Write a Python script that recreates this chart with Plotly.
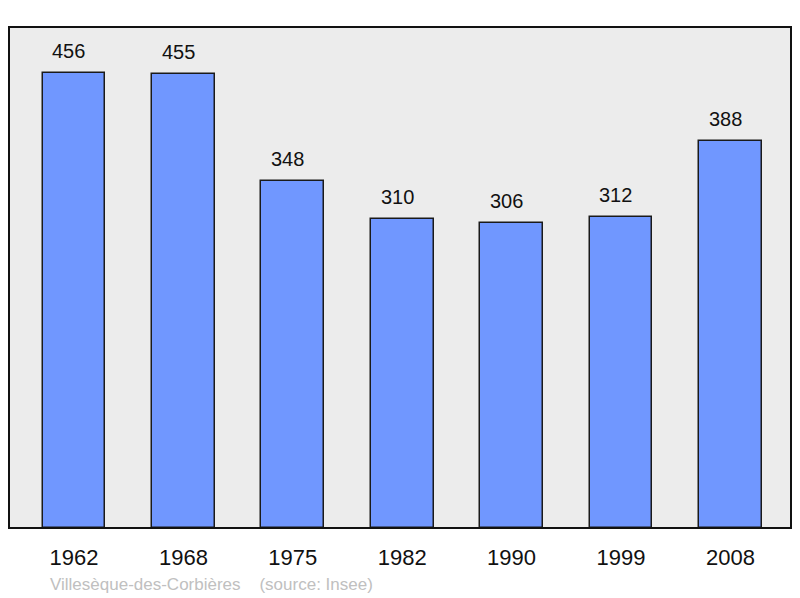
import plotly.graph_objects as go

years = ["1962", "1968", "1975", "1982", "1990", "1999", "2008"]
population = [456, 455, 348, 310, 306, 312, 388]
source_text = "Villesèque-des-Corbières    (source: Insee)"

xs = list(range(len(years)))

fig = go.Figure()
fig.add_trace(go.Bar(
    x=xs, y=population, width=0.575,
    marker=dict(color="#7097ff", line=dict(color="#1a1a1a", width=1.5)),
    hoverinfo="skip",
))

for x, v in zip(xs, population):
    fig.add_annotation(x=x, y=v, text=str(v), showarrow=False,
                       yanchor="bottom", yshift=9, xshift=-5,
                       font=dict(family="Liberation Sans, Arial", size=20, color="#111"))

fig.add_annotation(xref="paper", yref="paper", x=(48 - 9) / 782, y=-(584 - 528) / 501,
                   xanchor="left", yanchor="middle", showarrow=False,
                   text=source_text.replace("  ", "&nbsp;&nbsp;"),
                   font=dict(family="Liberation Sans, Arial", size=17, color="#c0c0c0"))

fig.add_shape(type="rect", xref="paper", yref="paper", x0=0, y0=0, x1=1, y1=1,
              line=dict(color="#111", width=2), layer="above")

fig.update_layout(
    width=800, height=598,
    margin=dict(l=9, r=9, t=27, b=70),
    paper_bgcolor="white", plot_bgcolor="#ececec",
    showlegend=False,
    bargap=0,
    xaxis=dict(range=[-0.594, 6.554], tickvals=xs, ticktext=years,
               showgrid=False, zeroline=False, ticks="outside", ticklen=10,
               tickcolor="rgba(0,0,0,0)",
               tickfont=dict(family="Liberation Sans, Arial", size=22, color="#111")),
    yaxis=dict(range=[0, 502], visible=False, showgrid=False, zeroline=False),
)

fig.write_html("out.html", config={"displayModeBar": False},
               post_script="document.body.style.margin='0';document.body.style.overflow='hidden';")
